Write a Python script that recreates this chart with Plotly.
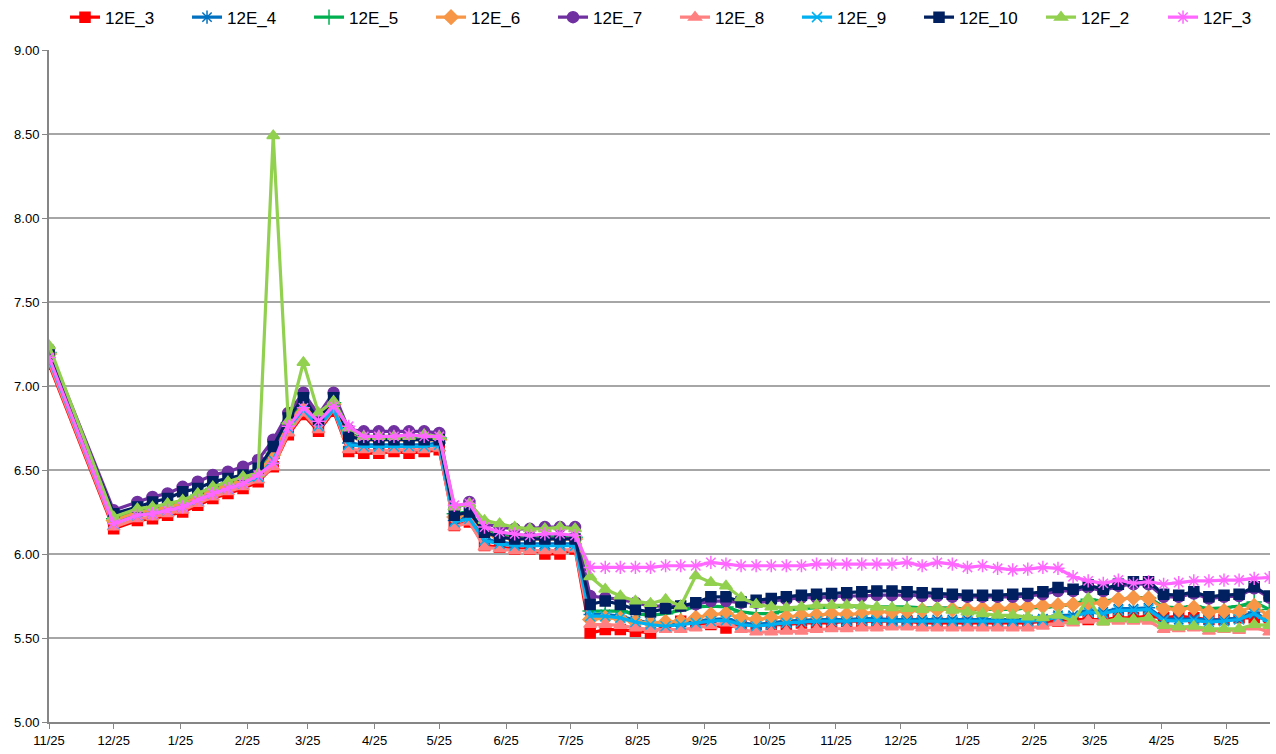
import plotly.graph_objects as go

dates = [
    "2012-11-25", "2012-12-25",
    "2013-01-05", "2013-01-12", "2013-01-19", "2013-01-26",
    "2013-02-02", "2013-02-09", "2013-02-16", "2013-02-23",
    "2013-03-02", "2013-03-09", "2013-03-16", "2013-03-23", "2013-03-30",
    "2013-04-06", "2013-04-13", "2013-04-20", "2013-04-27",
    "2013-05-04", "2013-05-11", "2013-05-18", "2013-05-25",
    "2013-06-01", "2013-06-08", "2013-06-15", "2013-06-22", "2013-06-29",
    "2013-07-06", "2013-07-13", "2013-07-20", "2013-07-27",
    "2013-08-03", "2013-08-10", "2013-08-17", "2013-08-24", "2013-08-31",
    "2013-09-07", "2013-09-14", "2013-09-21", "2013-09-28",
    "2013-10-05", "2013-10-12", "2013-10-19", "2013-10-26",
    "2013-11-02", "2013-11-09", "2013-11-16", "2013-11-23", "2013-11-30",
    "2013-12-07", "2013-12-14", "2013-12-21", "2013-12-28",
    "2014-01-04", "2014-01-11", "2014-01-18", "2014-01-25",
    "2014-02-01", "2014-02-08", "2014-02-15", "2014-02-22",
    "2014-03-01", "2014-03-08", "2014-03-15", "2014-03-22", "2014-03-29",
    "2014-04-05", "2014-04-12", "2014-04-19", "2014-04-26",
    "2014-05-03", "2014-05-10", "2014-05-17", "2014-05-24", "2014-05-31",
    "2014-06-07", "2014-06-14",
]

tick_dates = [
    "2012-11-25", "2012-12-25", "2013-01-25", "2013-02-25", "2013-03-25",
    "2013-04-25", "2013-05-25", "2013-06-25", "2013-07-25", "2013-08-25",
    "2013-09-25", "2013-10-25", "2013-11-25", "2013-12-25", "2014-01-25",
    "2014-02-25", "2014-03-25", "2014-04-25", "2014-05-25",
]
tick_labels = [
    "11/25", "12/25", "1/25", "2/25", "3/25", "4/25", "5/25", "6/25", "7/25",
    "8/25", "9/25", "10/25", "11/25", "12/25", "1/25", "2/25", "3/25", "4/25", "5/25",
]

s_12E_3 = [
    7.13, 6.15,
    6.20, 6.21, 6.23, 6.25, 6.29, 6.33, 6.36, 6.39, 6.43,
    6.52, 6.71, 6.83, 6.73, 6.85, 6.61,
    6.60, 6.60, 6.61, 6.60, 6.61, 6.62,
    6.17, 6.19, 6.05,
    6.04, 6.03, 6.03, 6.00, 6.00, 6.03,
    5.53, 5.55, 5.55, 5.54, 5.53, 5.57, 5.60, 5.59, 5.58, 5.56, 5.58, 5.58,
    5.58, 5.58, 5.59, 5.59, 5.59, 5.60, 5.60, 5.60, 5.60, 5.60, 5.59,
    5.59, 5.59, 5.59, 5.59, 5.59, 5.59, 5.59, 5.60, 5.60, 5.61, 5.61, 5.61,
    5.62, 5.62, 5.63, 5.62, 5.63, 5.62, 5.61, 5.61, 5.62, 5.62, 5.62,
]
s_12E_4 = [
    7.17, 6.19,
    6.24, 6.25, 6.27, 6.29, 6.33, 6.37, 6.40, 6.43, 6.47,
    6.57, 6.76, 6.87, 6.77, 6.87, 6.66,
    6.65, 6.65, 6.65, 6.65, 6.65, 6.66,
    6.20, 6.22, 6.09,
    6.07, 6.06, 6.06, 6.06, 6.06, 6.06,
    5.64, 5.64, 5.63, 5.605, 5.59, 5.58, 5.59, 5.60, 5.61, 5.615, 5.59, 5.58,
    5.59, 5.60, 5.605, 5.61, 5.61, 5.61, 5.615, 5.615, 5.61, 5.61, 5.61,
    5.61, 5.61, 5.61, 5.61, 5.61, 5.61, 5.61, 5.615, 5.635, 5.635, 5.665, 5.655,
    5.675, 5.675, 5.68, 5.615, 5.61, 5.615, 5.605, 5.61, 5.62, 5.655, 5.60,
]
s_12E_5 = [
    7.20, 6.21,
    6.26, 6.27, 6.29, 6.31, 6.35, 6.39, 6.42, 6.45, 6.49,
    6.60, 6.78, 6.90, 6.80, 6.90, 6.71,
    6.69, 6.69, 6.69, 6.69, 6.69, 6.69,
    6.24, 6.25, 6.14,
    6.12, 6.11, 6.11, 6.11, 6.11, 6.10,
    5.66, 5.66, 5.66, 5.645, 5.635, 5.645, 5.665, 5.685, 5.69, 5.685, 5.655, 5.645,
    5.645, 5.665, 5.675, 5.68, 5.685, 5.69, 5.69, 5.685, 5.685, 5.685, 5.68,
    5.68, 5.68, 5.67, 5.67, 5.67, 5.67, 5.68, 5.68, 5.69, 5.70, 5.73, 5.72,
    5.73, 5.74, 5.74, 5.685, 5.68, 5.69, 5.675, 5.68, 5.69, 5.715, 5.67,
]
s_12E_6 = [
    7.19, 6.20,
    6.25, 6.26, 6.28, 6.30, 6.34, 6.38, 6.41, 6.44, 6.48,
    6.59, 6.77, 6.89, 6.79, 6.89, 6.70,
    6.68, 6.68, 6.68, 6.68, 6.68, 6.68,
    6.22, 6.24, 6.12,
    6.10, 6.09, 6.09, 6.09, 6.09, 6.09,
    5.61, 5.62, 5.615, 5.595, 5.59, 5.595, 5.60, 5.62, 5.64, 5.645, 5.62, 5.61,
    5.62, 5.625, 5.635, 5.635, 5.645, 5.64, 5.645, 5.655, 5.655, 5.66, 5.665,
    5.67, 5.67, 5.67, 5.675, 5.675, 5.68, 5.685, 5.69, 5.695, 5.70, 5.705, 5.71,
    5.73, 5.74, 5.735, 5.675, 5.67, 5.68, 5.655, 5.66, 5.655, 5.69, 5.63,
]
s_12E_7 = [
    7.22, 6.26,
    6.31, 6.34, 6.36, 6.40, 6.43, 6.47, 6.49, 6.52, 6.56,
    6.68, 6.84, 6.96, 6.83, 6.96, 6.74,
    6.73, 6.73, 6.73, 6.73, 6.73, 6.72,
    6.27, 6.31, 6.18,
    6.16, 6.15, 6.15, 6.16, 6.16, 6.16,
    5.75, 5.74, 5.73, 5.71, 5.69, 5.69, 5.69, 5.70, 5.72, 5.72, 5.71, 5.71,
    5.72, 5.73, 5.74, 5.74, 5.745, 5.75, 5.75, 5.755, 5.755, 5.755, 5.75,
    5.75, 5.745, 5.745, 5.745, 5.745, 5.745, 5.75, 5.76, 5.78, 5.78, 5.80, 5.78,
    5.81, 5.82, 5.82, 5.745, 5.745, 5.765, 5.735, 5.745, 5.75, 5.795, 5.74,
]
s_12E_8 = [
    7.14, 6.16,
    6.21, 6.22, 6.24, 6.26, 6.30, 6.34, 6.37, 6.40, 6.44,
    6.52, 6.72, 6.84, 6.74, 6.86, 6.62,
    6.62, 6.61, 6.62, 6.62, 6.62, 6.63,
    6.16, 6.19, 6.04,
    6.03, 6.02, 6.02, 6.02, 6.02, 6.03,
    5.58, 5.58, 5.575, 5.56, 5.55, 5.55, 5.55, 5.56, 5.575, 5.59, 5.55, 5.535,
    5.535, 5.54, 5.54, 5.55, 5.555, 5.555, 5.56, 5.56, 5.565, 5.565, 5.56,
    5.56, 5.56, 5.56, 5.56, 5.56, 5.56, 5.56, 5.57, 5.59, 5.59, 5.605, 5.60,
    5.60, 5.60, 5.60, 5.55, 5.555, 5.56, 5.54, 5.55, 5.545, 5.565, 5.535,
]
s_12E_9 = [
    7.16, 6.18,
    6.23, 6.24, 6.26, 6.28, 6.32, 6.36, 6.39, 6.42, 6.46,
    6.56, 6.75, 6.86, 6.76, 6.86, 6.65,
    6.64, 6.64, 6.64, 6.64, 6.64, 6.65,
    6.19, 6.21, 6.08,
    6.06, 6.05, 6.05, 6.05, 6.05, 6.05,
    5.63, 5.63, 5.62, 5.595, 5.58, 5.57, 5.58, 5.59, 5.60, 5.605, 5.58, 5.57,
    5.58, 5.59, 5.595, 5.60, 5.60, 5.60, 5.605, 5.605, 5.60, 5.60, 5.60,
    5.60, 5.60, 5.60, 5.60, 5.60, 5.60, 5.60, 5.605, 5.625, 5.625, 5.655, 5.645,
    5.665, 5.665, 5.67, 5.605, 5.60, 5.605, 5.595, 5.60, 5.61, 5.645, 5.59,
]
s_12E_10 = [
    7.20, 6.24,
    6.28, 6.31, 6.33, 6.37, 6.39, 6.43, 6.45, 6.47, 6.51,
    6.64, 6.81, 6.93, 6.80, 6.93, 6.70,
    6.68, 6.68, 6.68, 6.68, 6.68, 6.68,
    6.23, 6.25, 6.13,
    6.10, 6.09, 6.09, 6.09, 6.09, 6.09,
    5.70, 5.72, 5.70, 5.67, 5.655, 5.675, 5.69, 5.71, 5.745, 5.745, 5.715, 5.725,
    5.735, 5.745, 5.755, 5.76, 5.765, 5.77, 5.775, 5.78, 5.78, 5.775, 5.77,
    5.765, 5.76, 5.755, 5.755, 5.755, 5.76, 5.765, 5.775, 5.80, 5.79, 5.815, 5.79,
    5.82, 5.835, 5.835, 5.76, 5.755, 5.775, 5.745, 5.755, 5.76, 5.805, 5.75,
]
s_12F_2 = [
    7.24, 6.22,
    6.27, 6.28, 6.30, 6.32, 6.36, 6.40, 6.43, 6.46, 6.48,
    8.49, 6.79, 7.14, 6.84, 6.91, 6.75,
    6.70, 6.70, 6.70, 6.70, 6.71, 6.70,
    6.28, 6.30, 6.20,
    6.18, 6.16, 6.15, 6.15, 6.16, 6.15,
    5.865, 5.79, 5.75, 5.72, 5.705, 5.73, 5.69, 5.87, 5.83, 5.81, 5.74, 5.70,
    5.685, 5.68, 5.685, 5.695, 5.695, 5.695, 5.69, 5.685, 5.68, 5.675, 5.67,
    5.68, 5.665, 5.655, 5.645, 5.635, 5.635, 5.625, 5.62, 5.635, 5.60, 5.735, 5.595,
    5.615, 5.61, 5.62, 5.575, 5.565, 5.57, 5.555, 5.555, 5.555, 5.58, 5.575,
]
s_12F_3 = [
    7.17, 6.18,
    6.23, 6.24, 6.26, 6.28, 6.32, 6.36, 6.39, 6.42, 6.47,
    6.54, 6.76, 6.87, 6.79, 6.88, 6.76,
    6.70, 6.70, 6.70, 6.71, 6.70, 6.70,
    6.29, 6.30, 6.16,
    6.13, 6.12, 6.11, 6.12, 6.12, 6.11,
    5.92, 5.92, 5.92, 5.92, 5.92, 5.93, 5.93, 5.93, 5.95, 5.94, 5.93, 5.93,
    5.93, 5.93, 5.93, 5.94, 5.94, 5.94, 5.94, 5.94, 5.94, 5.95, 5.93,
    5.95, 5.94, 5.92, 5.93, 5.915, 5.905, 5.91, 5.92, 5.915, 5.865, 5.84, 5.825,
    5.845, 5.825, 5.835, 5.82, 5.83, 5.84, 5.84, 5.845, 5.845, 5.855, 5.86,
]

series_names = ["12E_3", "12E_4", "12E_5", "12E_6", "12E_7",
                "12E_8", "12E_9", "12E_10", "12F_2", "12F_3"]
series_values = [s_12E_3, s_12E_4, s_12E_5, s_12E_6, s_12E_7,
                 s_12E_8, s_12E_9, s_12E_10, s_12F_2, s_12F_3]

styles = {
    "12E_3": ("#FF0000", "square", 10),
    "12E_4": ("#0070C0", "asterisk-open", 11),
    "12E_5": ("#00B050", "cross-thin-open", 11),
    "12E_6": ("#F79646", "diamond", 11),
    "12E_7": ("#7030A0", "circle", 11),
    "12E_8": ("#FF8080", "triangle-up", 11),
    "12E_9": ("#00B0F0", "x-thin-open", 10),
    "12E_10": ("#002060", "square", 10),
    "12F_2": ("#92D050", "triangle-up", 11),
    "12F_3": ("#FF66FF", "asterisk-open", 11),
}

fig = go.Figure()
for name, vals in zip(series_names, series_values):
    assert len(vals) == len(dates), (name, len(vals))
    color, symbol, size = styles[name]
    fig.add_trace(go.Scatter(
        x=dates, y=vals, name=name, mode="lines+markers",
        line=dict(color=color, width=3.2),
        marker=dict(symbol=symbol, size=size, color=color,
                    line=dict(color=color, width=1.5)),
    ))

font_family = "Liberation Sans, Arial, sans-serif"
fig.update_layout(
    width=1276, height=754,
    margin=dict(l=49, r=6, t=50, b=32, autoexpand=False),
    paper_bgcolor="white", plot_bgcolor="white",
    font=dict(family=font_family, size=13, color="#000000"),
    showlegend=True,
    legend=dict(orientation="h", x=1.0123, xanchor="right", y=1.075, yanchor="top",
                font=dict(size=17, family=font_family),
                entrywidth=77, entrywidthmode="pixels",
                itemwidth=30, bgcolor="rgba(0,0,0,0)"),
    xaxis=dict(
        type="date", range=["2012-11-25", "2014-06-14 08:00"],
        tickvals=tick_dates, ticktext=tick_labels,
        ticks="outside", ticklen=5, tickcolor="#868686", tickwidth=1,
        showline=True, linecolor="#868686", linewidth=2,
        showgrid=False, zeroline=False,
        tickfont=dict(size=13),
    ),
    yaxis=dict(
        range=[5, 9], dtick=0.5, tick0=5, tickformat=".2f",
        ticks="outside", ticklen=5, tickcolor="#868686",
        showline=True, linecolor="#868686", linewidth=2,
        showgrid=True, gridcolor="#A6A6A6", gridwidth=1.5, zeroline=False,
        tickfont=dict(size=13),
    ),
)

fig.write_html("out.html", config={"displayModeBar": False},
               post_script="document.body.style.margin='0px';")
